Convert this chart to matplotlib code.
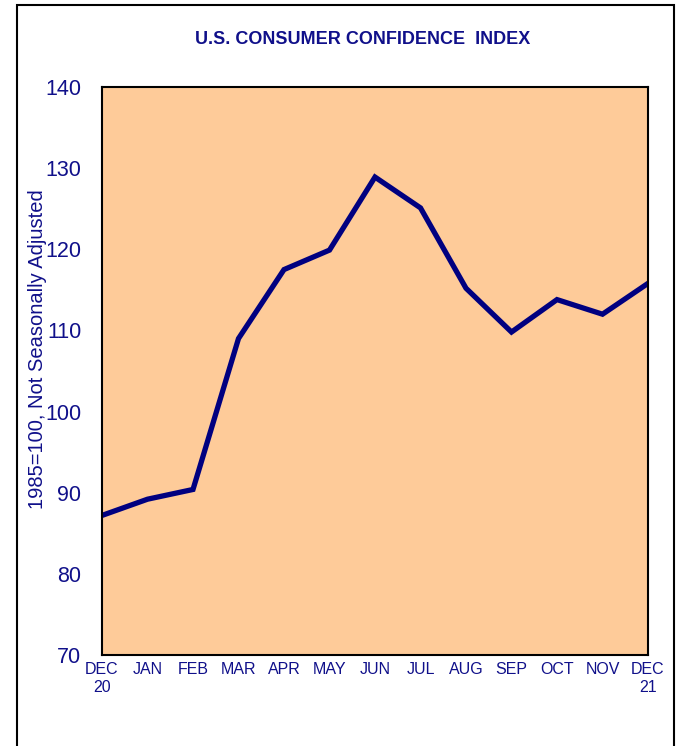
import matplotlib
matplotlib.use("Agg")
import matplotlib.pyplot as plt
from matplotlib.patches import Rectangle

months = ["DEC\n20", "JAN", "FEB", "MAR", "APR", "MAY", "JUN", "JUL",
          "AUG", "SEP", "OCT", "NOV", "DEC\n21"]
values = [87.2, 89.2, 90.4, 109.0, 117.5, 119.9, 128.9, 125.1,
          115.2, 109.8, 113.8, 112.0, 115.8]
yticks = [70, 80, 90, 100, 110, 120, 130, 140]

navy = "#000080"
txt = "#10108a"
fam = ["Liberation Sans", "DejaVu Sans"]

W, H = 682, 746
fig = plt.figure(figsize=(W / 100, H / 100), dpi=100)
fig.patch.set_facecolor("white")

# outer frame
fig.add_artist(Rectangle((17 / W, -0.05), (674 - 17) / W, 1.05 - 5 / H,
                         transform=fig.transFigure, fill=False,
                         edgecolor="black", linewidth=1.5, clip_on=False))

ax = fig.add_axes([102 / W, 1 - 655 / H, (648 - 102) / W, (655 - 87) / H])
ax.set_facecolor("#FECB99")
x = list(range(len(months)))
ax.plot(x, values, color=navy, linewidth=3.8, solid_joinstyle="miter")
ax.set_xlim(0, len(months) - 1)
ax.set_ylim(70, 140)
ax.set_yticks(yticks)
ax.set_yticklabels([str(v) for v in yticks], fontsize=15.5, color=txt,
                   family=fam)
ax.set_xticks(x)
ax.set_xticklabels(months, fontsize=11.5, color=txt, family=fam,
                   linespacing=1.25)
ax.tick_params(axis="both", length=0)
ax.tick_params(axis="y", pad=15)
ax.tick_params(axis="x", pad=5)
for s in ax.spines.values():
    s.set_linewidth(1.5)
    s.set_color("black")

fig.text(363 / W, 1 - 39 / H, "U.S. CONSUMER CONFIDENCE  INDEX",
         ha="center", va="center", fontsize=13, fontweight="bold",
         color=txt, family=fam)
fig.text(38 / W, 1 - 349 / H, "1985=100, Not Seasonally Adjusted",
         rotation=90, ha="center", va="center", fontsize=14.5, color=txt,
         family=fam)

fig.savefig("out.png", dpi=100)
